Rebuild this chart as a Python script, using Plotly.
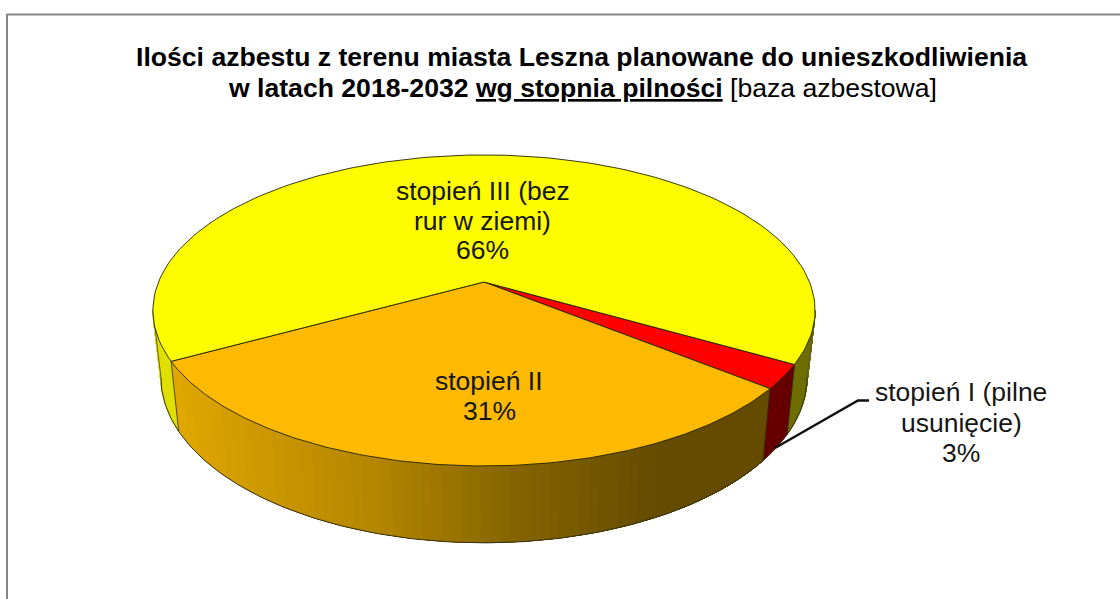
import math
import plotly.graph_objects as go

# ---- data ----
categories = ["stopień I (pilne usunięcie)", "stopień II", "stopień III (bez rur w ziemi)"]
shares = [2.5, 31.2, 66.3]
percent_labels = ["3%", "31%", "66%"]

title_lines = [
    "<b>Ilości azbestu z terenu miasta Leszna planowane do unieszkodliwienia</b>",
    "<b>w latach 2018-2032 <u>wg stopnia pilności</u></b> [baza azbestowa]",
]

# ---- style ----
TOP_COLORS = ["#FF0000", "#FDBA00", "#FDFD00"]
SIDE_RED = "#660000"
SIDE_YELLOW_LEFT = "#E0E000"
SIDE_YELLOW_RIGHT = "#6E6E00"
ORANGE_STOPS = [(0.0, (226, 168, 0)), (0.35, (178, 133, 0)), (0.55, (138, 103, 0)),
                (0.82, (100, 75, 0)), (1.0, (100, 75, 0))]
START_ANGLE = -29.9     # degrees, running clockwise

CX = 484
TOP = dict(A=325.5, B=150.3, y0=282.0)
BOT = dict(A=317.6, B=160.0, y0=347.0)
K = 0.183
SILHOUETTE = 10.5       # degrees beyond horizontal where the rim turns out of sight


def project(deg, plane):
    X, Y = math.cos(math.radians(deg)), math.sin(math.radians(deg))
    w = 1 + K * Y
    return CX + plane["A"] * X / w, plane["y0"] - plane["B"] * Y / w


def arc(a, b, plane, n=80):
    pts = [project(a + (b - a) * i / n, plane) for i in range(n + 1)]
    return [p[0] for p in pts], [p[1] for p in pts]


def ramp(f):
    for (f0, c0), (f1, c1) in zip(ORANGE_STOPS, ORANGE_STOPS[1:]):
        if f <= f1:
            t = (f - f0) / (f1 - f0)
            return "rgb(%d,%d,%d)" % tuple(c0[i] + (c1[i] - c0[i]) * t for i in range(3))
    return "rgb(100,75,0)"


fig = go.Figure()


def poly(xs, ys, color, line=None, lw=0.8):
    fig.add_trace(go.Scatter(x=xs, y=ys, mode="lines", fill="toself", fillcolor=color,
                             line=dict(color=line or color, width=lw),
                             hoverinfo="skip", showlegend=False))


def edge(xs, ys, width=0.9, color="#1c1c00"):
    fig.add_trace(go.Scatter(x=xs, y=ys, mode="lines", line=dict(color=color, width=width),
                             hoverinfo="skip", showlegend=False))


def side_sweep(a, b, color, n=60):
    xs, ys = [], []
    for i in range(n):
        t0 = a + (b - a) * i / n
        t1 = a + (b - a) * (i + 1) / n
        p = [project(t0, TOP), project(t1, TOP), project(t1, BOT), project(t0, BOT)]
        xs += [q[0] for q in p] + [p[0][0], None]
        ys += [q[1] for q in p] + [p[0][1], None]
    poly(xs, ys, color)


def side_band(a, b, color, lw=0.0):
    tx, ty = arc(a, b, TOP, 60)
    bx, by = arc(b, a, BOT, 60)
    poly(tx + bx + [tx[0]], ty + by + [ty[0]], color, lw=lw)


# slice boundaries, clockwise from the start angle
angles = [START_ANGLE]
for s in shares:
    angles.append(angles[-1] - s * 3.6)

left_end = 180 + SILHOUETTE - 360      # same direction as the clockwise boundaries
right_end = -SILHOUETTE

# yellow side: the two visible ends of the big slice
side_sweep(angles[2], left_end, SIDE_YELLOW_LEFT)
side_sweep(angles[0], right_end, SIDE_YELLOW_RIGHT)

# orange side with a stepped gradient: painted left to right, each band
# reaching to the right end so that no seam can show between two bands
bands = 60
x_left = project(angles[2], TOP)[0]
x_right = project(angles[1], TOP)[0]
fine = 1200
starts = {}
for i in range(fine + 1):
    a = angles[2] + (angles[1] - angles[2]) * i / fine
    f = (project(a, TOP)[0] - x_left) / (x_right - x_left)
    band = min(bands - 1, int(f * bands))
    starts.setdefault(band, a)
for band in sorted(starts):
    side_band(starts[band], angles[1], ramp((band + 0.5) / bands))

# red side
side_band(angles[1], angles[0], SIDE_RED, lw=0.5)

# outer outline of the bottom rim and vertical joints
ox, oy = arc(left_end, right_end, BOT, 200)
edge(ox, oy, 1.0, "#33331a")
for a in (left_end, right_end):
    t = project(a, TOP)
    b = project(a, BOT)
    edge([t[0], b[0]], [t[1], b[1]], 0.9, "#555544")
for a in angles[:3]:
    t = project(a, TOP)
    b = project(a, BOT)
    edge([t[0], b[0]], [t[1], b[1]], 0.8, "#2a2a10")

# top faces
for i in range(3):
    ax, ay = arc(angles[i], angles[i + 1], TOP, 160)
    poly([CX] + ax + [CX], [TOP["y0"]] + ay + [TOP["y0"]], TOP_COLORS[i], line="#222200", lw=0.9)

annotations = []


def text(x, y, s, size=26.5, color="#161616"):
    annotations.append(dict(x=x, y=y, text=s, showarrow=False, xref="x", yref="y",
                            xanchor="center", yanchor="middle",
                            font=dict(family="Liberation Sans", size=size, color=color)))


text(581.5, 57, title_lines[0], 26.6, "#000000")
text(582, 88, title_lines[1], 26.6, "#000000")

text(482.5, 191, "stopień III (bez")
text(482.5, 221, "rur w ziemi)")
text(482.5, 250, percent_labels[2])
text(489, 381, categories[1])
text(489, 411, percent_labels[1])
text(961, 392, "stopień I (pilne")
text(961, 423, "usunięcie)")
text(961, 453, percent_labels[0])

shapes = [
    dict(type="line", xref="x", yref="y", x0=7, y0=14.5, x1=1120, y1=14.5,
         line=dict(color="#868686", width=2)),
    dict(type="line", xref="x", yref="y", x0=7, y0=14, x1=7, y1=599,
         line=dict(color="#868686", width=2)),
    dict(type="path", xref="x", yref="y", path="M 775 448 L 858 400.5 L 869 400.5",
         line=dict(color="#111111", width=2.4)),
]

fig.update_layout(
    width=1120, height=599, margin=dict(l=0, r=0, t=0, b=0),
    paper_bgcolor="white", plot_bgcolor="white", showlegend=False,
    xaxis=dict(range=[0, 1120], visible=False, fixedrange=True),
    yaxis=dict(range=[599, 0], visible=False, fixedrange=True),
    annotations=annotations, shapes=shapes,
)

fig.write_html("out.html", config={"displayModeBar": False},
               post_script="document.body.style.margin='0';document.body.style.overflow='hidden';")
